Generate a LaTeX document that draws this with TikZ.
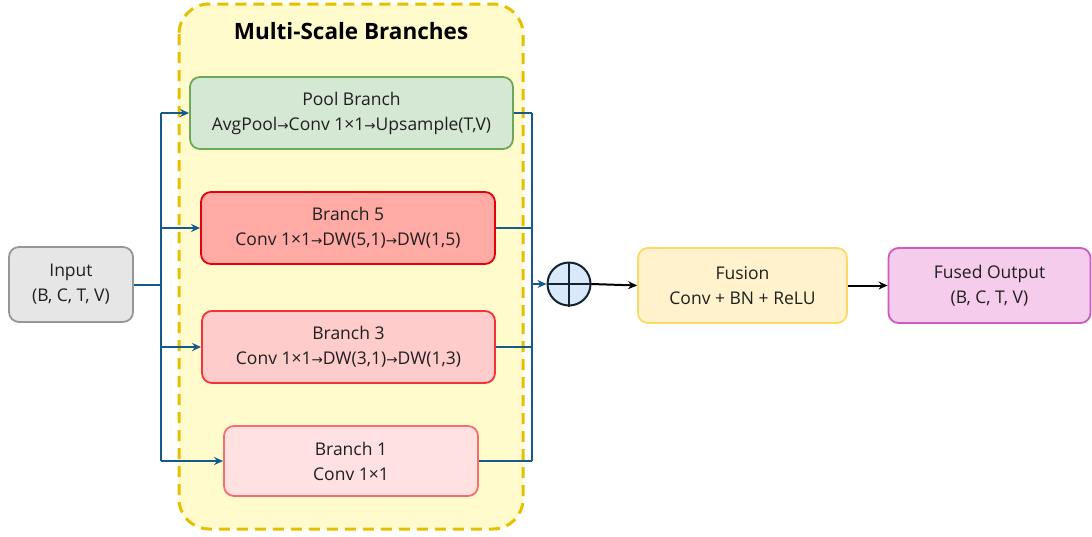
\documentclass[tikz,border=0pt]{standalone}
\usepackage{fontspec}
\setmainfont{Open Sans}
\newfontfamily\symf{DejaVu Sans}
\usetikzlibrary{arrows.meta}
\definecolor{blueln}{HTML}{165A8C}
\definecolor{contfill}{HTML}{FFFBCC}
\definecolor{contdraw}{HTML}{E6C000}
\newcommand{\ra}{{\symf\fontsize{13.5}{13.5}\selectfont→}}
\tikzset{
  box/.style={draw, rounded corners=10pt, line width=1.8pt, align=center, inner sep=0pt, font=\fontsize{17.5}{25}\selectfont, text=black!88},
  conn/.style={draw=blueln, line width=2pt},
  arr/.style={conn, -{Stealth[length=9pt,width=8pt]}},
  barr/.style={draw=black, line width=2pt, -{Stealth[length=9pt,width=8pt]}}
}
\begin{document}
\begin{tikzpicture}[x=1pt,y=-1pt]
\useasboundingbox (0,0) rectangle (1092,536);
% container
\draw[fill=contfill, draw=contdraw, line width=3pt, dash pattern=on 11pt off 7pt, rounded corners=30pt] (179,4) rectangle (523,529);
\node[font=\fontsize{22.5}{26}\selectfont\bfseries] (title) at (351,31) {Multi-Scale Branches};
% nodes
\node[box, fill={rgb,255:red,213;green,232;blue,212}, draw={rgb,255:red,110;green,168;blue,90}, minimum width=323pt, minimum height=72pt] (pool) at (351.5,113) {Pool Branch\\AvgPool\ra Conv 1×1\ra Upsample(T,V)};
\node[box, fill={rgb,255:red,255;green,170;blue,165}, draw={rgb,255:red,230;green,0;blue,10}, minimum width=294pt, minimum height=72pt] (b5) at (348,228) {Branch 5\\Conv 1×1\ra DW(5,1)\ra DW(1,5)};
\node[box, fill={rgb,255:red,255;green,204;blue,204}, draw={rgb,255:red,245;green,50;blue,55}, minimum width=293pt, minimum height=72pt] (b3) at (348.5,347) {Branch 3\\Conv 1×1\ra DW(3,1)\ra DW(1,3)};
\node[box, fill={rgb,255:red,255;green,225;blue,225}, draw={rgb,255:red,245;green,110;blue,110}, minimum width=254pt, minimum height=70pt] (b1) at (351,461) {Branch 1\\Conv 1×1};
\node[box, fill={rgb,255:red,230;green,230;blue,230}, draw={rgb,255:red,150;green,150;blue,150}, minimum width=124pt, minimum height=75pt] (in) at (71,284.5) {Input\\(B, C, T, V)};
\node[circle, draw={rgb,255:red,20;green,35;blue,50}, fill={rgb,255:red,218;green,232;blue,252}, line width=2pt, minimum size=43pt, inner sep=0pt] (sum) at (569,284) {};
\draw[line width=2pt, draw={rgb,255:red,20;green,35;blue,50}] (sum.north) -- (sum.south) (sum.west) -- (sum.east);
\node[box, fill={rgb,255:red,255;green,242;blue,204}, draw={rgb,255:red,255;green,217;blue,102}, minimum width=209pt, minimum height=75pt] (fus) at (742.5,285.5) {Fusion\\Conv + BN + ReLU};
\node[box, fill={rgb,255:red,245;green,204;blue,235}, draw={rgb,255:red,205;green,90;blue,190}, minimum width=202pt, minimum height=75pt] (out) at (989.5,285.5) {Fused Output\\(B, C, T, V)};
% connectors
\coordinate (jl) at (161,0);
\coordinate (jr) at (532,0);
\draw[conn] (in.east) -- (in.east -| jl);
\draw[conn] (pool.west -| jl) -- (b1.west -| jl);
\draw[arr] (pool.west -| jl) -- (pool.west);
\draw[arr] (b5.west -| jl) -- (b5.west);
\draw[arr] (b3.west -| jl) -- (b3.west);
\draw[arr] (b1.west -| jl) -- (b1.west);
\draw[conn] (pool.east) -- (pool.east -| jr);
\draw[conn] (b5.east) -- (b5.east -| jr);
\draw[conn] (b3.east) -- (b3.east -| jr);
\draw[conn] (b1.east) -- (b1.east -| jr);
\draw[conn] (pool.east -| jr) -- (b1.east -| jr);
\draw[arr] (sum.west -| jr) -- (sum.west);
\draw[barr] (sum.east) -- (fus.west);
\draw[barr] (fus.east) -- (out.west);
\end{tikzpicture}
\end{document}
